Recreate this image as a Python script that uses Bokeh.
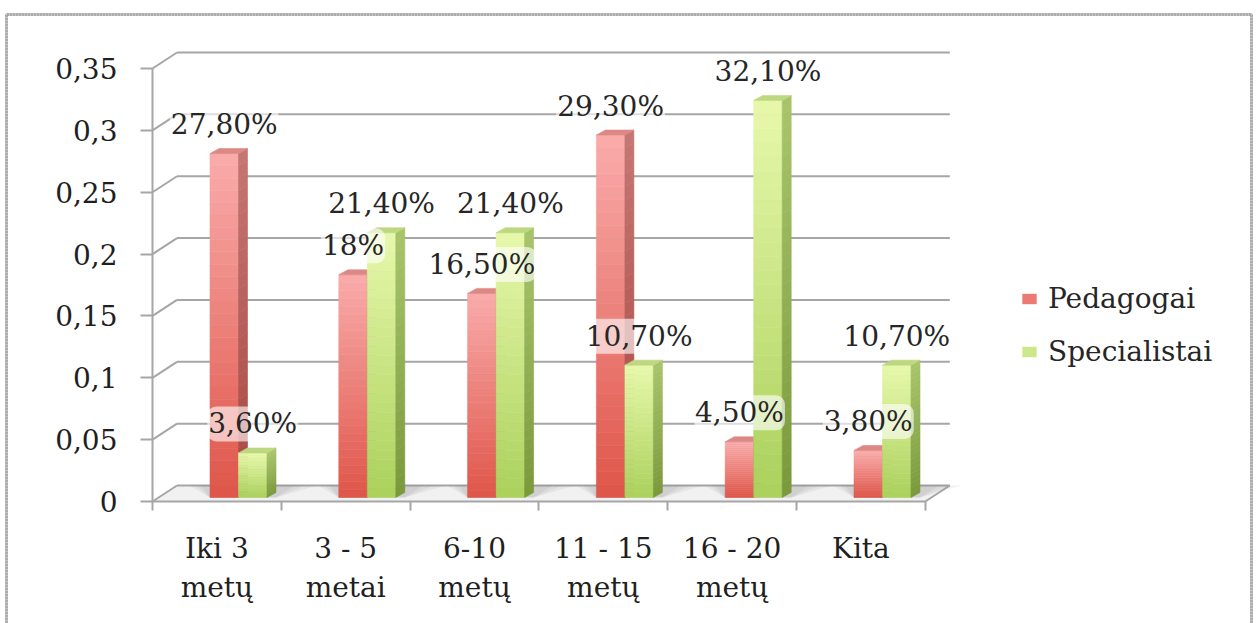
from bokeh.plotting import figure
from bokeh.models import (ColumnDataSource, FixedTicker, Legend, LegendItem, Range1d)
from bokeh.embed import file_html
from bokeh.resources import INLINE
from bokeh.core.properties import value

# ---- data -------------------------------------------------------------
categories = ["Iki 3\nmetų", "3 - 5\nmetai", "6-10\nmetų",
              "11 - 15\nmetų", "16 - 20\nmetų", "Kita"]
series_names = ["Pedagogai", "Specialistai"]
pedagogai = [0.278, 0.18, 0.165, 0.293, 0.045, 0.038]
specialistai = [0.036, 0.214, 0.214, 0.107, 0.321, 0.107]
pedagogai_labels = ["27,80%", "18%", "16,50%", "29,30%", "4,50%", "3,80%"]
specialistai_labels = ["3,60%", "21,40%", "21,40%", "10,70%", "32,10%", "10,70%"]
y_ticks = [0, 0.05, 0.1, 0.15, 0.2, 0.25, 0.3, 0.35]
y_tick_labels = ["0", "0,05", "0,1", "0,15", "0,2", "0,25", "0,3", "0,35"]

# ---- geometry ------------------------------------------------------------
W, H = 1257, 623
ORIGIN_X, ORIGIN_Y = 152, 501   # canvas pixel of the front-left corner of the floor
PX_X = 128.8            # pixels per category
PX_Y = 1237.1           # pixels per unit of value


def dx(px):
    return px / PX_X


def dy(px):
    return px / PX_Y


DX = dx(24.5)           # depth of the back wall
DY = dy(16.0)
BAR_OFF = dx(57.5)      # first bar's left edge inside its category
BAR_W = dx(28.5)
SIDE_DX = dx(9.0)       # bar depth
SIDE_DY = dy(5.0)
BASE = dy(4.0)          # bars stand a little behind the floor's front edge
N_CAT = len(categories)
FONT = "DejaVu Serif"
FS = "28px"
GRID = "#a6a6a6"
TEXT = "#1f1f1f"

STYLE = {
    "Pedagogai": dict(front=("#df5549", "#f9acab"), side=("#a9463f", "#c47774"),
                      top="#de8885", legend="#ec7a72"),
    "Specialistai": dict(front=("#abd15c", "#e7f8ab"), side=("#7a993b", "#a8c56c"),
                         top="#bdd880", legend="#cbe88a"),
}


def mix(c0, c1, t):
    a = [int(c0[k:k + 2], 16) for k in (1, 3, 5)]
    b = [int(c1[k:k + 2], 16) for k in (1, 3, 5)]
    return "#%02x%02x%02x" % tuple(round(a[i] + (b[i] - a[i]) * t) for i in range(3))


# the plot frame covers the whole canvas; axes are pinned to the floor corner
p = figure(width=W, height=H, output_backend="svg", toolbar_location=None,
           x_range=Range1d(dx(-ORIGIN_X), dx(W - ORIGIN_X)),
           y_range=Range1d(dy(-(H - ORIGIN_Y)), dy(ORIGIN_Y)),
           min_border=0)
p.background_fill_color = "white"
p.border_fill_color = "white"
p.outline_line_color = None
p.xgrid.visible = False
p.ygrid.visible = False

# ---- chart border (open at the bottom) ---------------------------------
bx = [dx(6 - ORIGIN_X), dx(6 - ORIGIN_X), dx(1251 - ORIGIN_X), dx(1251 - ORIGIN_X)]
by = [dy(-(H + 20 - ORIGIN_Y)), dy(ORIGIN_Y - 14), dy(ORIGIN_Y - 14), dy(-(H + 20 - ORIGIN_Y))]
p.line(bx, by, line_color="#c4c4c4", line_width=3)
p.line(bx, by, line_color="#979797", line_width=3, line_dash="1 2")

# ---- floor, back wall and side wall lines ---------------------------------
p.patch([0, N_CAT, N_CAT + DX, DX], [0, 0, DY, DY], fill_color="#f1f1f1",
        line_color=None)
gx0, gx1, gy0, gy1 = [], [], [], []
for v in y_ticks:
    gx0 += [0, DX]
    gy0 += [v, v + DY]
    gx1 += [DX, N_CAT + DX]
    gy1 += [v + DY, v + DY]
gx0.append(N_CAT); gy0.append(0); gx1.append(N_CAT + DX); gy1.append(DY)
p.segment(gx0, gy0, gx1, gy1, line_color=GRID, line_width=2)

# ---- soft floor shadows ------------------------------------------------------
sh_xs, sh_ys = [], []
for i in range(N_CAT):
    xl = i + BAR_OFF
    xr = i + BAR_OFF + 2 * BAR_W + SIDE_DX
    for s in (1.0, 0.7, 0.45):
        sh_xs.append([xl - 0.16 * s, xl, xr, xr + 0.32 * s])
        sh_ys.append([DY, BASE, BASE, DY])
p.patches(sh_xs, sh_ys, fill_color="#7f7f7f", fill_alpha=0.1, line_color=None)

# ---- 3D bars with vertical gradients ------------------------------------
N_STRIP = 28
for i in range(N_CAT):
    for s, (name, vals) in enumerate(zip(series_names, (pedagogai, specialistai))):
        st = STYLE[name]
        x0 = i + BAR_OFF + s * BAR_W
        x1 = x0 + BAR_W
        h = vals[i]
        fr = dict(left=[], right=[], bottom=[], top=[], color=[])
        sd = dict(xs=[], ys=[], color=[])
        for k in range(N_STRIP):
            y0 = BASE + h * k / N_STRIP
            y1 = BASE + h * (k + 1) / N_STRIP
            t = (k + 0.5) / N_STRIP
            fr["left"].append(x0); fr["right"].append(x1)
            fr["bottom"].append(y0); fr["top"].append(y1)
            fr["color"].append(mix(st["front"][0], st["front"][1], t))
            sd["xs"].append([x1, x1, x1 + SIDE_DX, x1 + SIDE_DX])
            sd["ys"].append([y0, y1, y1 + SIDE_DY, y0 + SIDE_DY])
            sd["color"].append(mix(st["side"][0], st["side"][1], t))
        yt = BASE + h
        # each bar is drawn completely before the next so nearer faces overlap
        p.quad(left=fr["left"], right=fr["right"], bottom=fr["bottom"], top=fr["top"],
               fill_color=fr["color"], line_color=fr["color"], line_width=0.6)
        p.patches(sd["xs"], sd["ys"], fill_color=sd["color"], line_color=sd["color"],
                  line_width=0.6)
        p.patch([x0, x1, x1 + SIDE_DX, x0 + SIDE_DX], [yt, yt, yt + SIDE_DY, yt + SIDE_DY],
                fill_color=st["top"], line_color=st["top"], line_width=0.6)

# ---- value labels ------------------------------------------------------
lab = dict(x=[], y=[], text=[])
for s, (vals, texts) in enumerate(((pedagogai, pedagogai_labels),
                                   (specialistai, specialistai_labels))):
    for i in range(N_CAT):
        lab["x"].append(i + BAR_OFF + s * BAR_W + BAR_W / 2)
        lab["y"].append(BASE + vals[i])
        lab["text"].append(texts[i])
p.text(x="x", y="y", text="text", source=ColumnDataSource(lab),
       text_font=value(FONT), text_font_size=FS, text_color="#262626",
       text_align="center", text_baseline="alphabetic", y_offset=-29,
       background_fill_color="white", background_fill_alpha=0.62,
       padding=1, border_radius=9)

# ---- legend ----------------------------------------------------------------
legend_items = []
for name in series_names:
    # swatch renderer kept outside the visible range; only its legend glyph shows
    r = p.quad(left=[dx(2000)], right=[dx(2001)], bottom=[0], top=[0.01],
               fill_color=STYLE[name]["legend"], line_color=None)
    legend_items.append(LegendItem(label=name, renderers=[r]))
legend = Legend(items=legend_items, location=(1020, 255), orientation="vertical",
                glyph_width=18, glyph_height=13, label_height=32, spacing=20,
                padding=0, margin=0, label_standoff=10,
                border_line_color=None, background_fill_alpha=0,
                label_text_font=FONT, label_text_font_size=FS,
                label_text_color="#262626")
p.add_layout(legend)

# ---- axes --------------------------------------------------------------
ya = p.yaxis[0]
ya.fixed_location = 0
ya.ticker = FixedTicker(ticks=y_ticks)
ya.major_label_overrides = dict(zip(y_ticks, y_tick_labels))
ya.bounds = (0, 0.35)
ya.axis_line_color = GRID
ya.axis_line_width = 2
ya.major_tick_line_color = GRID
ya.major_tick_line_width = 2
ya.major_tick_in = 0
ya.major_tick_out = 12
ya.minor_tick_line_color = None
ya.major_label_standoff = 23
ya.major_label_text_font = FONT
ya.major_label_text_font_size = FS
ya.major_label_text_color = TEXT

centers = [i + 0.5 for i in range(N_CAT)]
xa = p.xaxis[0]
xa.fixed_location = 0
xa.ticker = FixedTicker(ticks=centers, minor_ticks=list(range(N_CAT + 1)))
xa.major_label_overrides = dict(zip(centers, categories))
xa.bounds = (0, N_CAT)
xa.axis_line_color = GRID
xa.axis_line_width = 2
xa.major_tick_line_color = None
xa.major_tick_in = 0
xa.major_tick_out = 0
xa.minor_tick_line_color = GRID
xa.minor_tick_line_width = 2
xa.minor_tick_in = 0
xa.minor_tick_out = 9
xa.major_label_standoff = 21
xa.major_label_text_font = FONT
xa.major_label_text_font_size = FS
xa.major_label_text_color = TEXT
xa.major_label_text_line_height = 1.2

open("out.html", "w").write(file_html(p, INLINE))
